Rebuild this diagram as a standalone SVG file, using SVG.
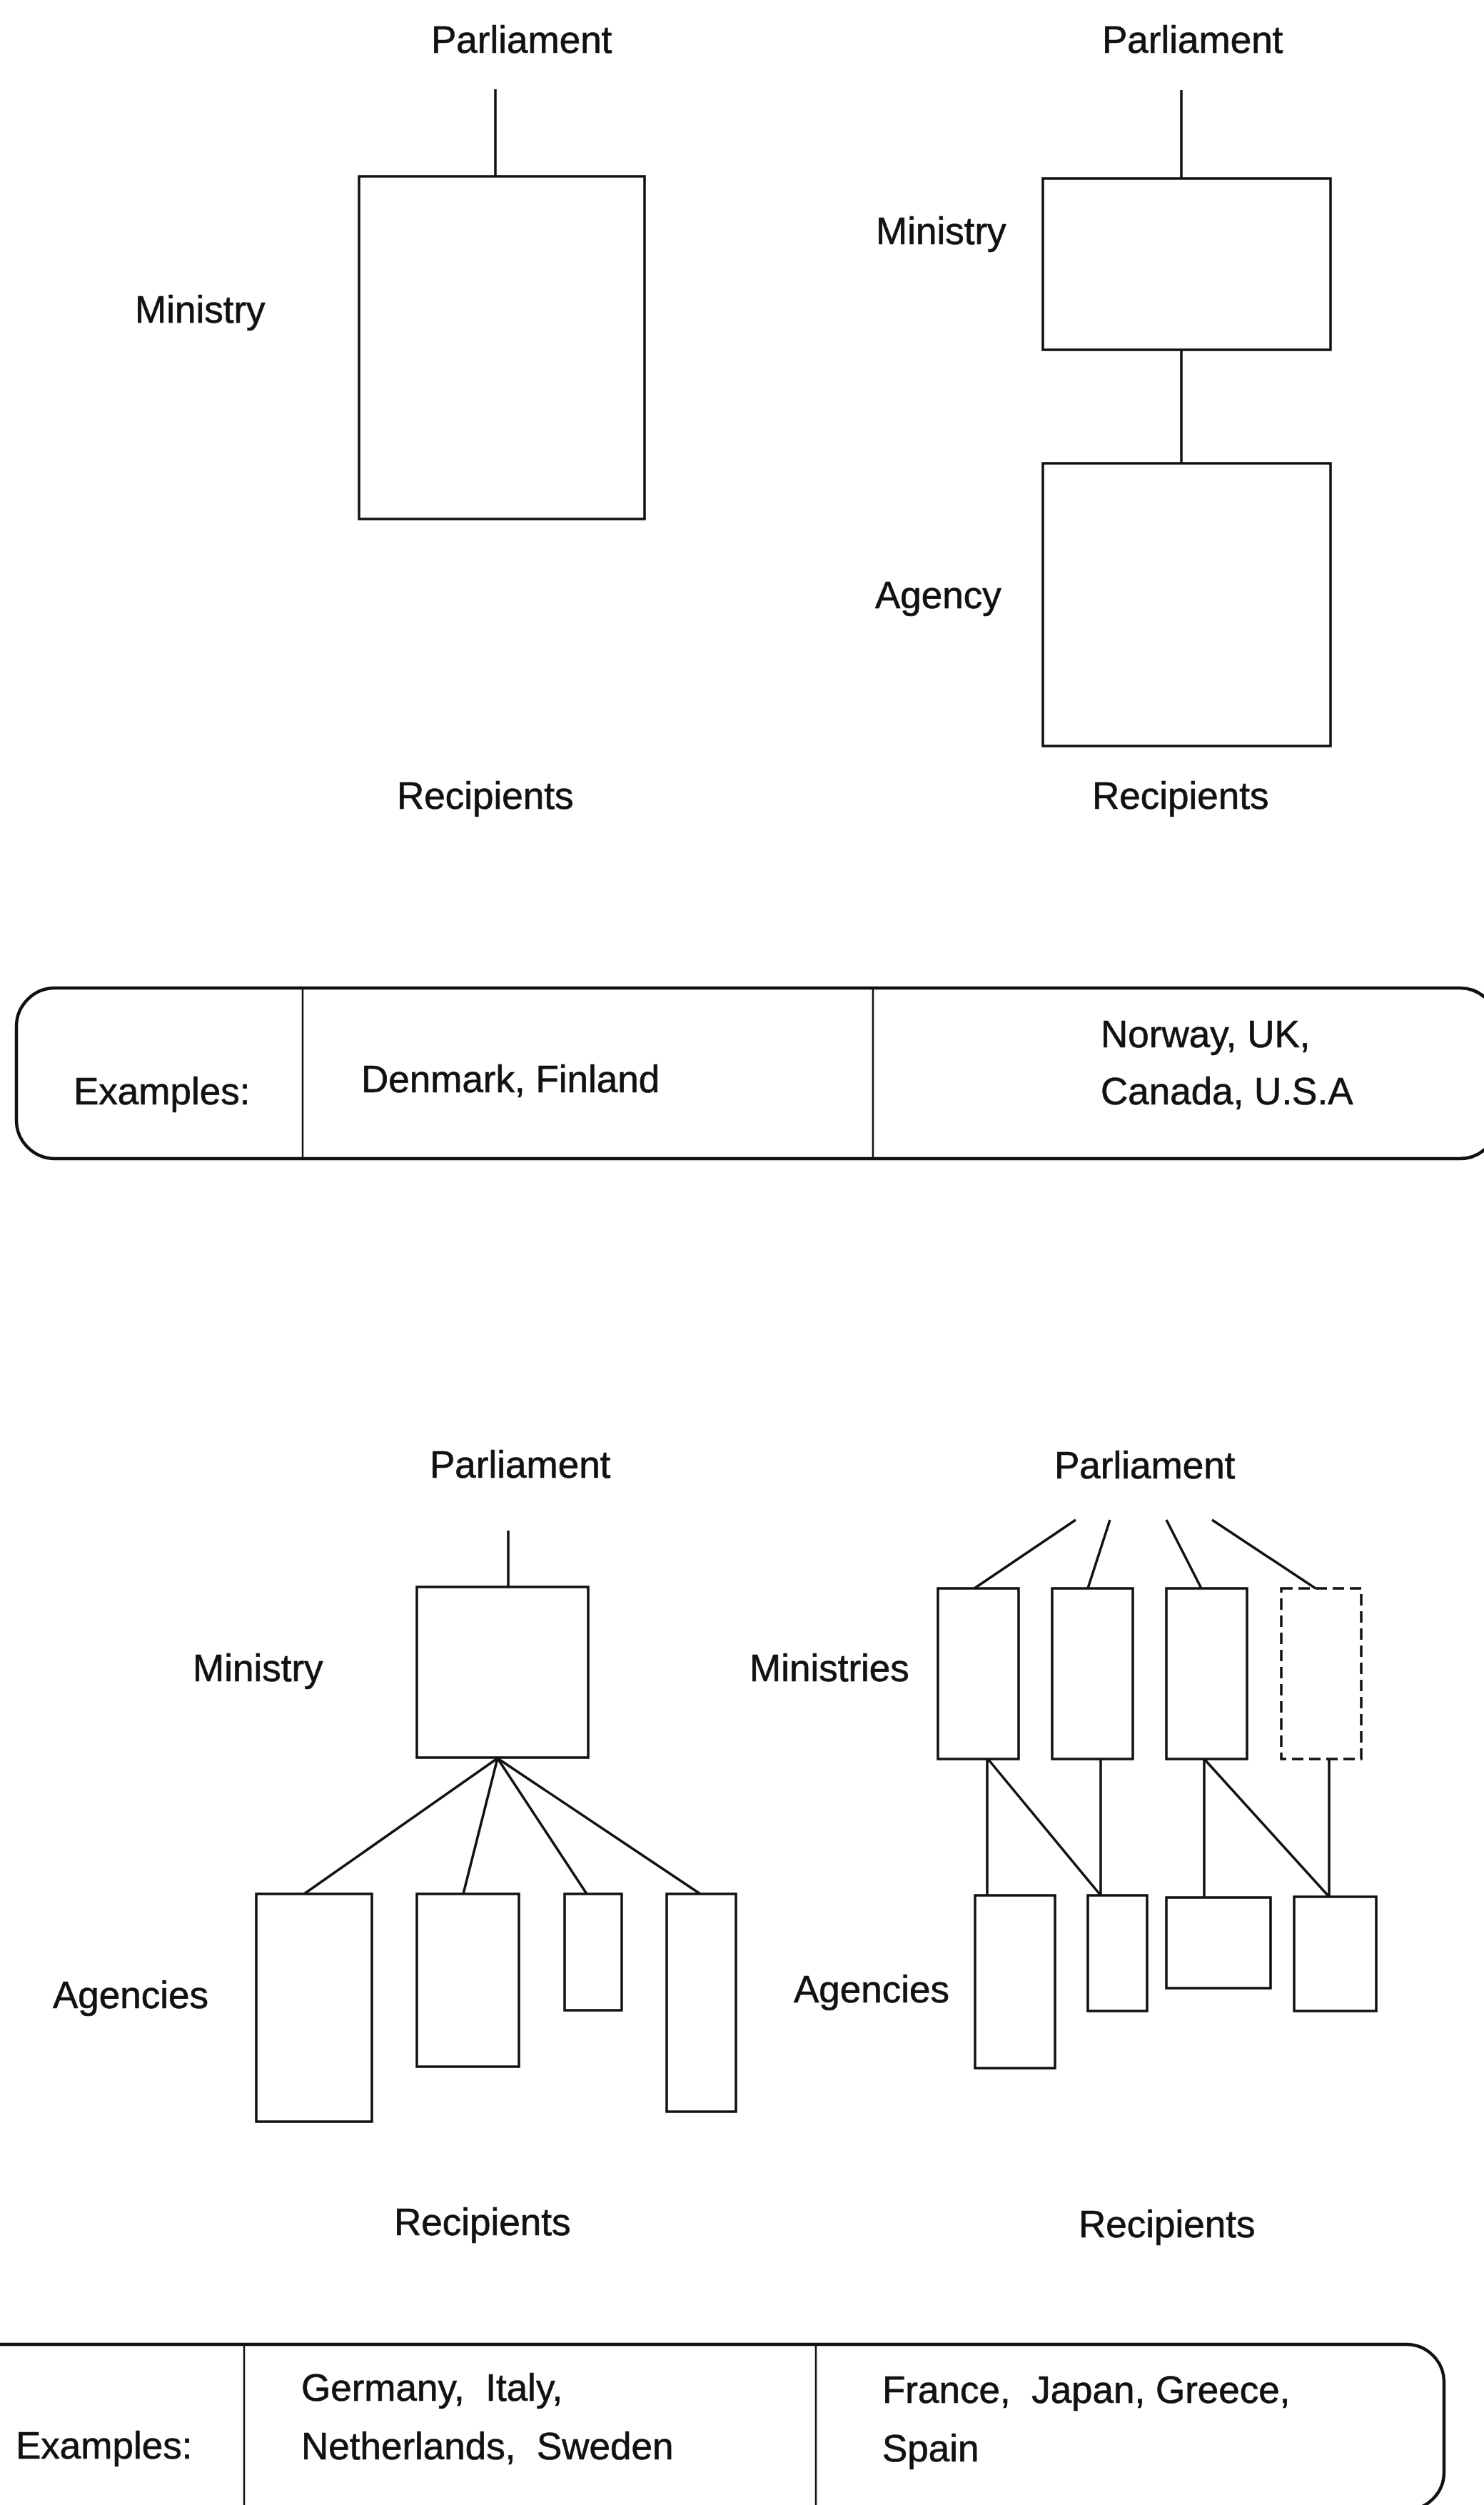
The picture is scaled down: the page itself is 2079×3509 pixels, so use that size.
<svg xmlns="http://www.w3.org/2000/svg" width="2079" height="3509" viewBox="0 0 2079 3509">
<style>
  text { font-family: "Liberation Sans", Arial, sans-serif; font-size: 53px; fill: #111; stroke: #111; stroke-width: 0.7; }
  .box { fill: none; stroke: #111; stroke-width: 3.5; }
  .dash { fill: none; stroke: #111; stroke-width: 3.5; stroke-dasharray: 16 8; }
  .conn line { stroke: #111; stroke-width: 3.5; }
  .band { fill: none; stroke: #111; stroke-width: 4.5; }
  .div { stroke: #111; stroke-width: 2.5; }
</style>
<rect x="0" y="0" width="2079" height="3509" fill="#fff"/>

<!-- Top-left diagram -->
<g id="tl-labels">
  <text id="tl-parliament" x="604" y="74">Parliament</text>
  <text id="tl-ministry-label" x="189" y="452">Ministry</text>
  <text id="tl-recipients" x="556" y="1133">Recipients</text>
</g>
<g id="tl-ministry"><rect class="box" x="503" y="247" width="400" height="480"/></g>

<!-- Top-right diagram -->
<g id="tr-labels">
  <text id="tr-parliament" x="1544" y="74">Parliament</text>
  <text id="tr-ministry-label" x="1227" y="342">Ministry</text>
  <text id="tr-agency-label" x="1226" y="852">Agency</text>
  <text id="tr-recipients" x="1530" y="1133">Recipients</text>
</g>
<g id="tr-ministry"><rect class="box" x="1461" y="250" width="403" height="240"/></g>
<g id="tr-agency"><rect class="box" x="1461" y="649" width="403" height="396"/></g>

<!-- Band 1 -->
<g id="band1">
  <rect class="band" x="23" y="1384" width="2076" height="239" rx="54" ry="54"/>
  <line class="div" x1="424" y1="1384" x2="424" y2="1623"/>
  <line class="div" x1="1223" y1="1384" x2="1223" y2="1623"/>
  <text x="103" y="1547">Examples:</text>
  <text x="506" y="1530">Denmark, Finland</text>
  <text x="1542" y="1467">Norway, UK,</text>
  <text x="1542" y="1547">Canada, U.S.A</text>
</g>

<!-- Bottom-left diagram -->
<g id="bl-labels">
  <text id="bl-parliament" x="602" y="2070">Parliament</text>
  <text id="bl-ministry-label" x="270" y="2355">Ministry</text>
  <text id="bl-agencies-label" x="74" y="2813">Agencies</text>
  <text id="bl-recipients" x="552" y="3131">Recipients</text>
</g>
<g id="bl-ministry"><rect class="box" x="584" y="2223" width="240" height="239"/></g>
<g id="bl-agency1"><rect class="box" x="359" y="2653" width="162" height="319"/></g>
<g id="bl-agency2"><rect class="box" x="584" y="2653" width="143" height="242"/></g>
<g id="bl-agency3"><rect class="box" x="791" y="2653" width="80" height="163"/></g>
<g id="bl-agency4"><rect class="box" x="934" y="2653" width="97" height="305"/></g>

<!-- Bottom-right diagram -->
<g id="br-labels">
  <text id="br-parliament" x="1477" y="2071">Parliament</text>
  <text id="br-ministries-label" x="1050" y="2355">Ministries</text>
  <text id="br-agencies-label" x="1112" y="2805">Agencies</text>
  <text id="br-recipients" x="1511" y="3134">Recipients</text>
</g>
<g id="br-ministry1"><rect class="box" x="1314" y="2225" width="113" height="239"/></g>
<g id="br-ministry2"><rect class="box" x="1474" y="2225" width="113" height="239"/></g>
<g id="br-ministry3"><rect class="box" x="1634" y="2225" width="113" height="239"/></g>
<g id="br-ministry4"><rect class="dash" x="1795" y="2225" width="112" height="239"/></g>
<g id="br-agency1"><rect class="box" x="1366" y="2655" width="112" height="242"/></g>
<g id="br-agency2"><rect class="box" x="1524" y="2655" width="83" height="162"/></g>
<g id="br-agency3"><rect class="box" x="1634" y="2658" width="146" height="127"/></g>
<g id="br-agency4"><rect class="box" x="1813" y="2657" width="115" height="160"/></g>

<!-- Band 2 -->
<g id="band2">
  <rect class="band" x="-80" y="3284" width="2103" height="232" rx="53" ry="53"/>
  <line class="div" x1="342" y1="3284" x2="342" y2="3516"/>
  <line class="div" x1="1143" y1="3284" x2="1143" y2="3516"/>
  <text x="22" y="3444">Examples:</text>
  <text x="422" y="3363" xml:space="preserve">Germany,  Italy,</text>
  <text x="422" y="3445" xml:space="preserve">Netherlands,  Sweden</text>
  <text x="1236" y="3366" xml:space="preserve">France,  Japan, Greece,</text>
  <text x="1236" y="3448">Spain</text>
</g>

<!-- Connectors -->
<g id="connectors" class="conn">
  <line x1="694" y1="125" x2="694" y2="247"/>
  <line x1="1655" y1="126" x2="1655" y2="250"/>
  <line x1="1655" y1="490" x2="1655" y2="649"/>

  <line x1="712" y1="2144" x2="712" y2="2223"/>
  <line x1="697" y1="2463" x2="426" y2="2653"/>
  <line x1="697" y1="2463" x2="649" y2="2653"/>
  <line x1="697" y1="2463" x2="822" y2="2653"/>
  <line x1="697" y1="2463" x2="981" y2="2653"/>

  <line x1="1507" y1="2129" x2="1365" y2="2225"/>
  <line x1="1555" y1="2129" x2="1524" y2="2225"/>
  <line x1="1634" y1="2129" x2="1683" y2="2225"/>
  <line x1="1698" y1="2129" x2="1843" y2="2225"/>

  <line x1="1383" y1="2464" x2="1383" y2="2655"/>
  <line x1="1384" y1="2464" x2="1542" y2="2655"/>
  <line x1="1542" y1="2464" x2="1542" y2="2655"/>
  <line x1="1687" y1="2464" x2="1687" y2="2658"/>
  <line x1="1687" y1="2464" x2="1862" y2="2657"/>
  <line x1="1862" y1="2464" x2="1862" y2="2657"/>
</g>
</svg>
